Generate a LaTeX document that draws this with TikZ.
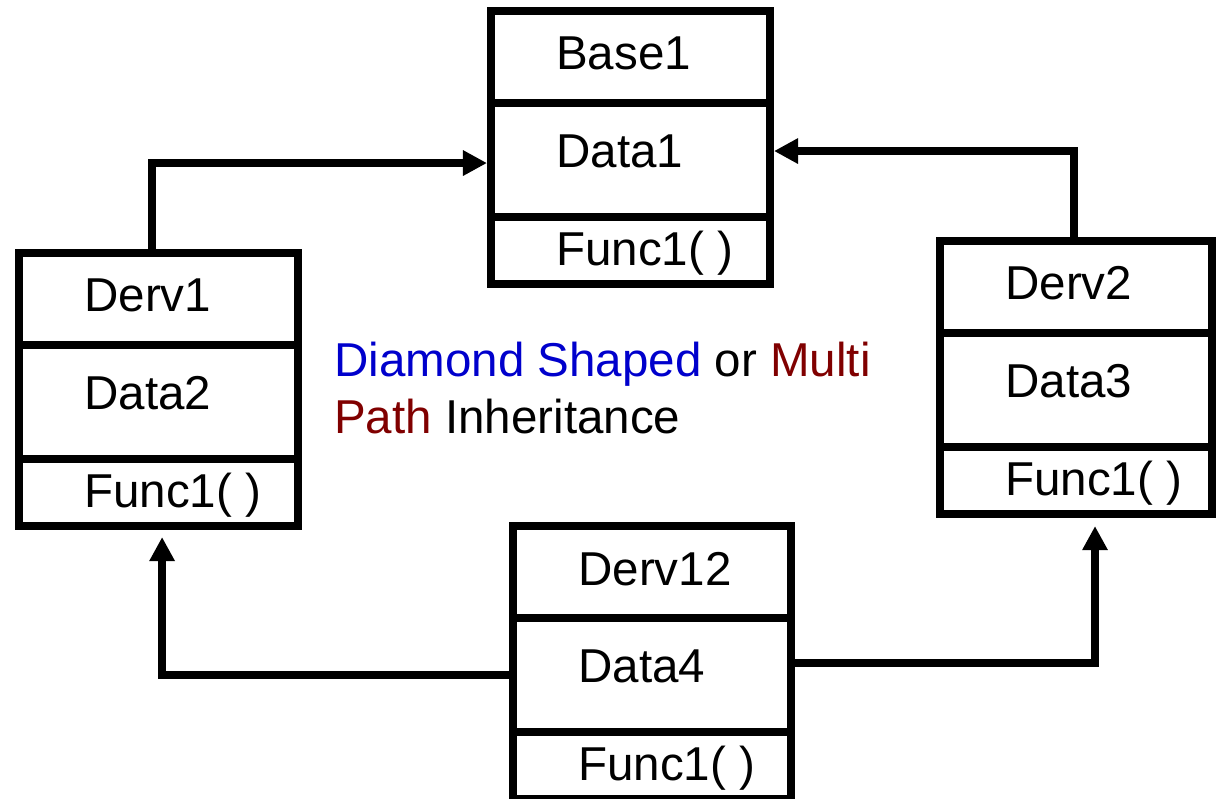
\documentclass[tikz,border=0pt]{standalone}
\usepackage{fontspec}
\setmainfont{Liberation Sans}
\usetikzlibrary{arrows.meta}
\usetikzlibrary{calc}
\definecolor{diamondblue}{RGB}{0,0,204}
\definecolor{pathred}{RGB}{128,0,0}

\begin{document}
\begin{tikzpicture}[x=0.025cm, y=-0.025cm,
        sect/.style={draw, line width=0.2cm, outer sep=0pt, inner sep=0pt, anchor=north west},
        txt/.style={anchor=base west, inner sep=0pt, font=\fontsize{33.8}{40.5}\selectfont},
        inherit/.style={line width=0.2cm, -{Triangle[length=0.6cm, width=0.6cm]}},
        ]
    \useasboundingbox (0,0) rectangle (1216,799);
    % each class: name, data and function rows stacked
    \foreach \n/\x/\y/\w/\t/\d in {base/491/11/279/Base1/Data1, dervA/19/253/279/Derv1/Data2,
            dervB/940/241/272/Derv2/Data3, dervAB/513/526/278/Derv12/Data4}{
        \node[sect, minimum width=\w*0.025cm, minimum height=2.3cm] (\n-head) at (\x,\y) {};
        \node[sect, minimum width=\w*0.025cm, minimum height=2.85cm] (\n-data) at (\n-head.south west) {};
        \node[sect, minimum width=\w*0.025cm, minimum height=1.675cm] (\n-func) at (\n-data.south west) {};
        \node[txt] (\n-title) at ($(\n-head.north west)+(65,59)$) {\t};
        \node[txt] (\n-field) at ($(\n-data.north west)+(65,64)$) {\d};
        \node[txt] (\n-method) at ($(\n-func.north west)+(65,48)$) {Func1( )};
    }
    \draw[inherit, shorten >=0.1cm] ([xshift=-0.16cm]dervA-head.north) |- ([yshift=-0.075cm]base-data.west);
    \draw[inherit, shorten >=0.1cm] ([xshift=-0.06cm]dervB-head.north) |- ([yshift=0.225cm]base-data.east);
    \draw[inherit, shorten >=0.275cm] (dervAB-data.west) -| ([xshift=0.09cm]dervA-func.south);
    \draw[inherit, shorten >=0.3cm] ([yshift=0.3cm]dervAB-data.east) -| ([xshift=0.475cm]dervB-func.south);
    \node[anchor=north west, inner sep=0pt, align=left, font=\fontsize{33.8}{40.5}\selectfont] (caption)
        at (334,342) {\textcolor{diamondblue}{Diamond Shaped} or \textcolor{pathred}{Multi}\\
        \textcolor{pathred}{Path} Inheritance};
\end{tikzpicture}
\end{document}
